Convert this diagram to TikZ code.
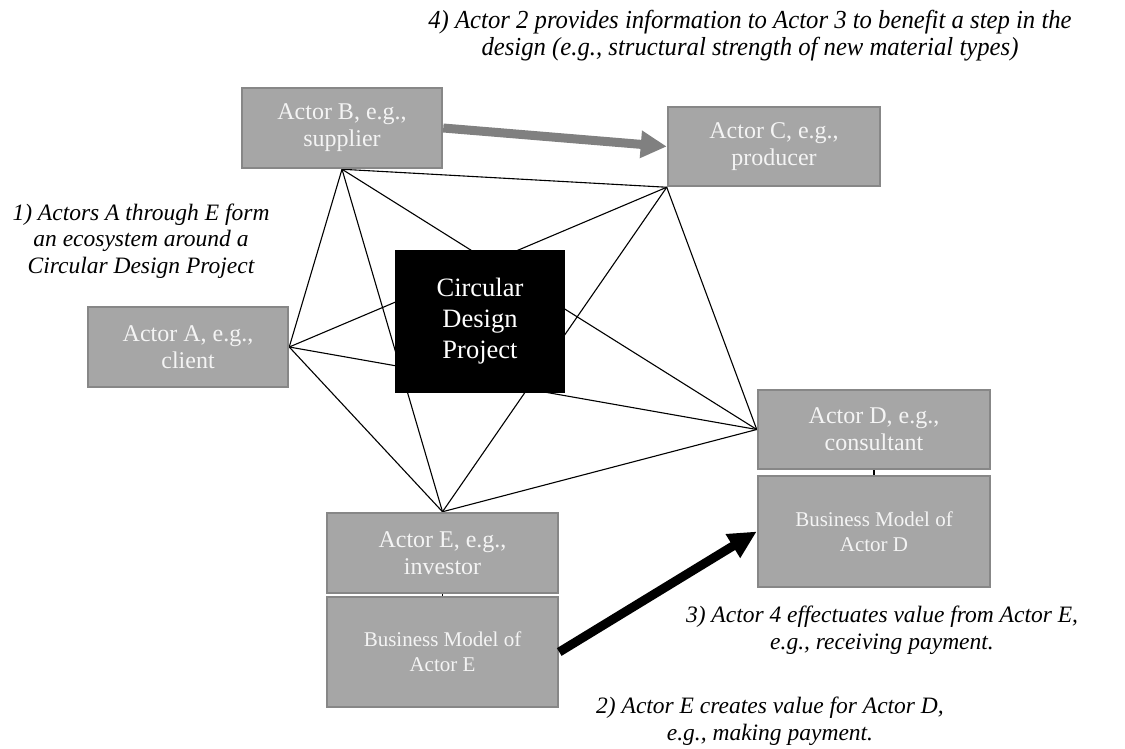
\documentclass[tikz,border=0pt]{standalone}
\usepackage{fontspec}
\setmainfont{Liberation Serif}
\newfontfamily\narrowserif{Liberation Serif}[FakeStretch=0.95]
\usetikzlibrary{arrows.meta}
\definecolor{boxfill}{HTML}{A6A6A6}
\definecolor{boxline}{HTML}{878787}
\definecolor{boxtext}{HTML}{F4F4F4}
\definecolor{arrowgray}{HTML}{808080}
\pgfdeclarelayer{background}
\pgfsetlayers{background,main}
\begin{document}
\begin{tikzpicture}[x=1bp,y=-1bp,
  actor/.style={draw=boxline, line width=2.5bp, fill=boxfill, text=boxtext, align=center, inner sep=0pt,
    font=\fontsize{24bp}{27bp}\selectfont},
  bmodel/.style={actor, font=\fontsize{21bp}{25bp}\selectfont},
  project/.style={fill=black, text=white, align=center, inner sep=0pt,
    font=\fontsize{26.5bp}{31bp}\selectfont},
  note/.style={align=center, inner sep=0pt, font=\fontsize{23.5bp}{26.5bp}\selectfont\itshape},
  topnote/.style={align=center, inner sep=0pt, font=\narrowserif\fontsize{26bp}{27bp}\selectfont\itshape},
  web/.style={line width=1.1bp, black},
  link/.style={line width=1.1bp, black},
  grayarrow/.style={line width=9bp, arrowgray, -{Triangle[width=26bp,length=26bp]}},
  blackarrow/.style={line width=9bp, black, -{Triangle[width=26bp,length=28bp]}}
]
\useasboundingbox (0,0) rectangle (1125,749);

% actors
\node[actor, minimum width=200bp, minimum height=80bp] (A) at (188,347) {Actor A, e.g.,\\client};
\node[actor, minimum width=200bp, minimum height=80bp] (B) at (342,128) {Actor B, e.g.,\\supplier};
\node[actor, minimum width=212bp, minimum height=79bp] (C) at (774,146.5) {Actor C, e.g.,\\producer};
\node[actor, minimum width=232bp, minimum height=79bp] (D) at (874,429.5) {Actor D, e.g.,\\consultant};
\node[bmodel, minimum width=232bp, minimum height=111bp] (BMD) at (874,531.5) {Business Model of\\Actor D};
\node[actor, minimum width=231bp, minimum height=80bp] (E) at (442.5,553) {Actor E, e.g.,\\investor};
\node[bmodel, minimum width=231bp, minimum height=110bp] (BME) at (442.5,652) {Business Model of\\Actor E};

% central project
\node[project, minimum width=170bp, minimum height=143bp] (P) at (480,321.5) {Circular\\Design\\Project};

% ecosystem web (behind everything)
\begin{pgfonlayer}{background}
\coordinate (a) at (A.east);
\coordinate (b) at (B.south);
\coordinate (c) at (C.south west);
\coordinate (d) at (D.west);
\coordinate (e) at (E.north);
\draw[web] (a) -- (b);
\draw[web] (a) -- (c);
\draw[web] (a) -- (d);
\draw[web] (a) -- (e);
\draw[web] (b) -- (c);
\draw[web] (b) -- (d);
\draw[web] (b) -- (e);
\draw[web] (c) -- (d);
\draw[web] (c) -- (e);
\draw[web] (d) -- (e);
\end{pgfonlayer}

% links between actor and its business model
\draw[link] (E.south) -- (BME.north);
\draw[link] (D.south) -- (BMD.north);

% arrows
\draw[grayarrow] (B.east) -- (C.west);
\draw[blackarrow] (BME.east) -- (BMD.west);

% annotations (base anchor = baseline of last line)
\node[note, anchor=base] (n1) at (141,273) {1) Actors A through E form\\an ecosystem around a\\Circular Design Project};
\node[topnote, anchor=base] (n4) at (750,56) {4) Actor 2 provides information to Actor 3 to benefit a step in the\\design (e.g., structural strength of new material types)};
\node[note, anchor=base] (n3) at (882,649) {3) Actor 4 effectuates value from Actor E,\\e.g., receiving payment.};
\node[note, anchor=base] (n2) at (770,740) {2) Actor E creates value for Actor D,\\e.g., making payment.};
\end{tikzpicture}
\end{document}
